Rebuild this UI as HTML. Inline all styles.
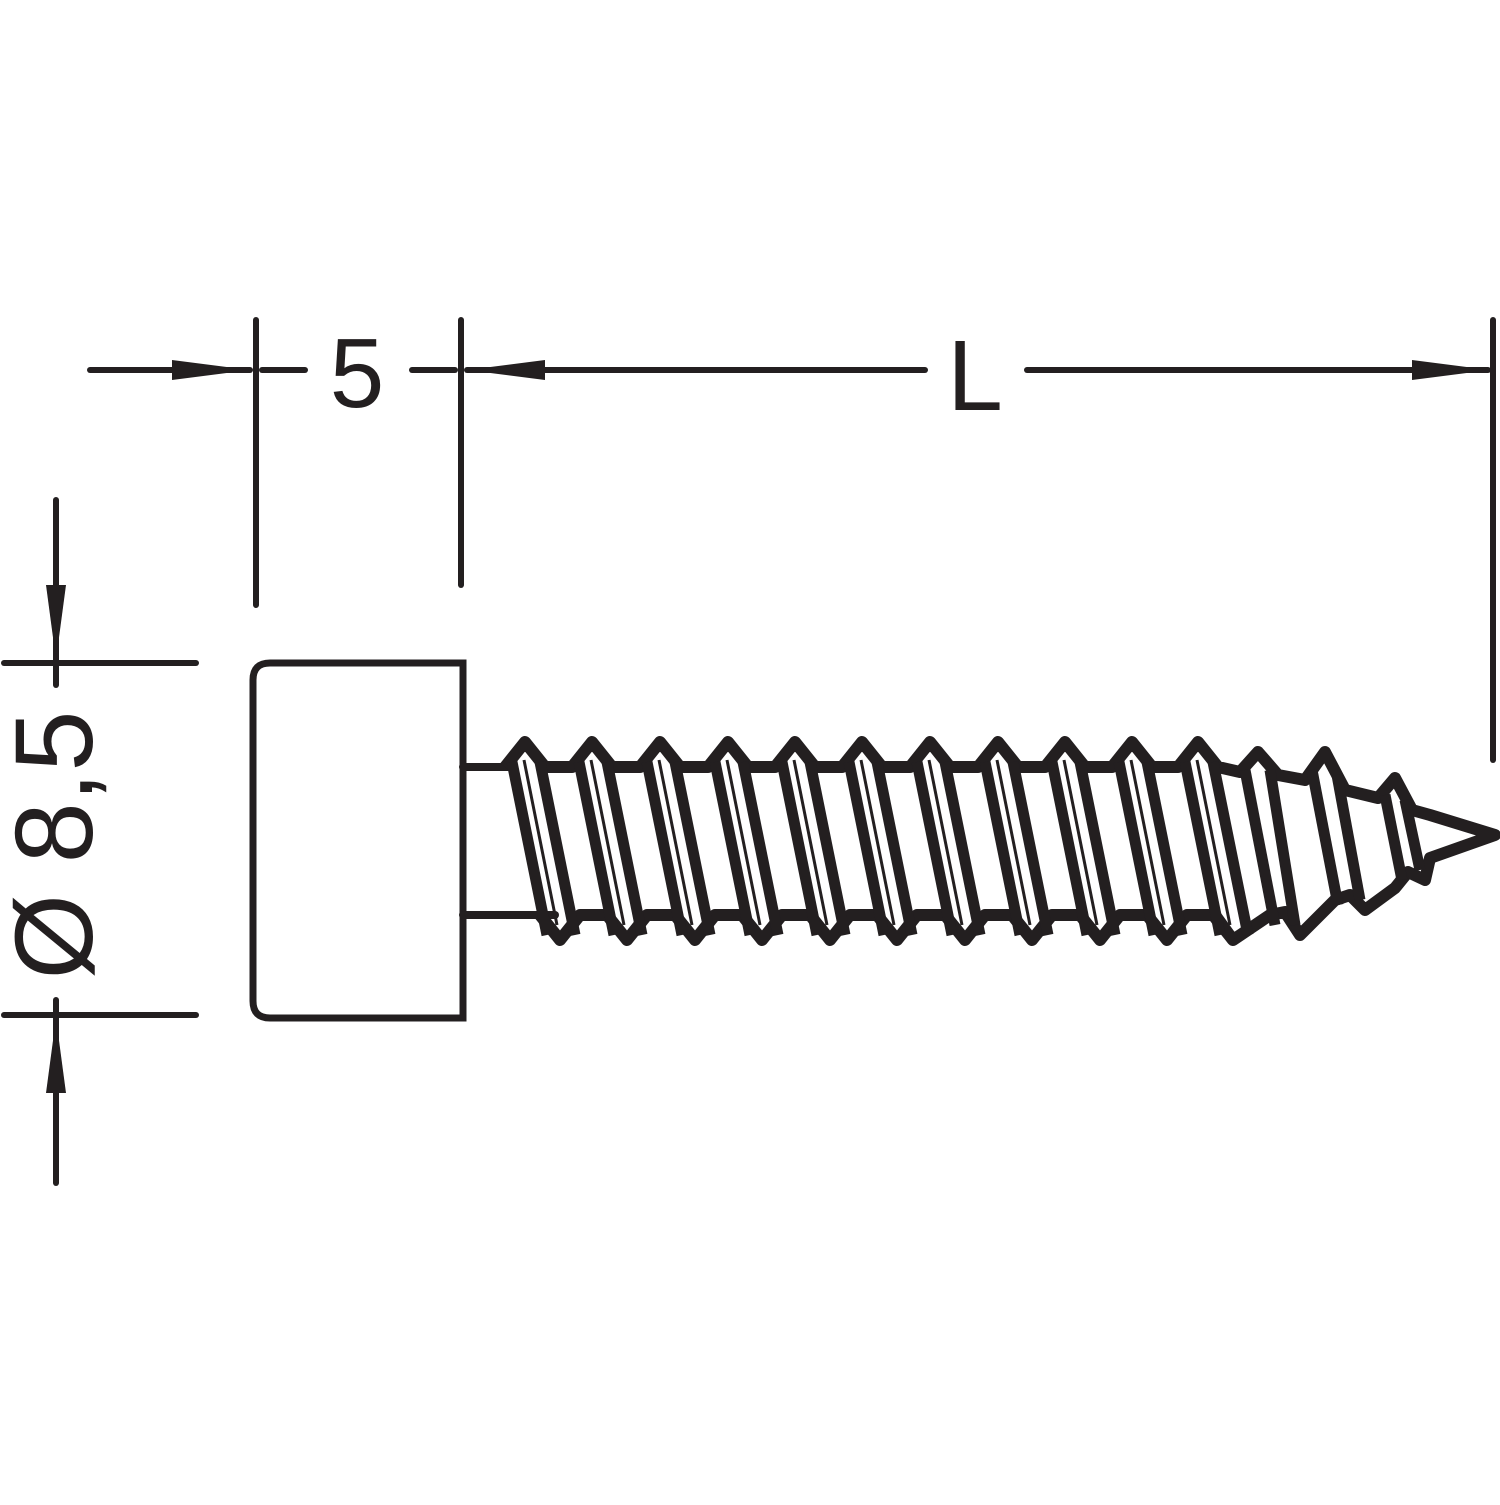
<!DOCTYPE html>
<html><head><meta charset="utf-8"><style>html,body{margin:0;padding:0;background:#fff}</style></head>
<body>
<svg width="1500" height="1500" viewBox="0 0 1500 1500" xmlns="http://www.w3.org/2000/svg">
<g stroke="#231f20" stroke-width="6" stroke-linecap="round" fill="none">
<line x1="256" y1="320" x2="256" y2="605"/>
<line x1="461" y1="320" x2="461" y2="585"/>
<line x1="1493" y1="320" x2="1493" y2="760"/>
<line x1="90" y1="370" x2="250" y2="370"/>
<line x1="262" y1="370" x2="305" y2="370"/>
<line x1="412" y1="370" x2="455" y2="370"/>
<line x1="467" y1="370" x2="925" y2="370"/>
<line x1="1027" y1="370" x2="1488" y2="370"/>
<line x1="56" y1="500" x2="56" y2="685"/>
<line x1="56" y1="1000" x2="56" y2="1183"/>
<line x1="4" y1="663" x2="196" y2="663"/>
<line x1="4" y1="1015" x2="196" y2="1015"/>
<path d="M463 663 H270 Q253 663 253 680 V1001 Q253 1018 270 1018 H463 Z" stroke-width="7"/>
<line x1="463" y1="767" x2="510" y2="767" stroke-width="8"/>
<line x1="463" y1="915" x2="555" y2="915" stroke-width="8"/>
</g>
<g fill="#231f20">
<polygon points="250,370 172,360 172,380"/>
<polygon points="467,370 545,360 545,380"/>
<polygon points="1490,370 1412,360 1412,380"/>
<polygon points="56,660 46,585 66,585"/>
<polygon points="56,1018 46,1093 66,1093"/>
</g>
<g fill="#231f20" font-family="Liberation Sans, sans-serif">
<text x="357" y="407" font-size="98" text-anchor="middle">5</text>
<text x="975" y="410" font-size="100" text-anchor="middle">L</text>
<text transform="translate(92,845) rotate(-90)" font-size="110" text-anchor="middle">Ø 8,5</text>
</g>
<g stroke="#231f20" stroke-width="12" stroke-linejoin="round" fill="none">
<path d="M505 767 L525 742 L545 767
L572 767 L592 742 L612 767
L640 767 L660 742 L680 767
L708 767 L728 742 L748 767
L775 767 L795 742 L815 767
L842 767 L862 742 L882 767
L910 767 L930 742 L950 767
L978 767 L998 742 L1018 767
L1045 767 L1065 742 L1085 767
L1112 767 L1132 742 L1152 767
L1178 767 L1198 742 L1218 767
L1240 772 L1258 752 L1278 775
L1305 780 L1325 752 L1345 790
L1378 798 L1395 778 L1412 810
L1430 815 L1495 835 L1430 858
L1425 880 L1408 872 L1395 888
L1365 910 L1350 895 L1335 900
L1300 935 L1285 912 L1270 915
L1233 940 L1215 915
"/>
<path d="M540 915 L560 940 L580 915
L607 915 L627 940 L647 915
L675 915 L695 940 L715 915
L742 915 L762 940 L782 915
L810 915 L830 940 L850 915
L877 915 L897 940 L917 915
L945 915 L965 940 L985 915
L1012 915 L1032 940 L1052 915
L1080 915 L1100 940 L1120 915
L1147 915 L1167 940 L1187 915
L1213 915 L1233 940"/>
</g>
<g stroke="#231f20" stroke-width="11" fill="none">
<g id="t">
<line x1="512" y1="762" x2="547" y2="935"/>
<line x1="540" y1="762" x2="575" y2="935"/>
<line x1="524" y1="760" x2="557" y2="925" stroke-width="3"/>
</g>
<use href="#t" x="67"/><use href="#t" x="135"/><use href="#t" x="203"/><use href="#t" x="270"/>
<use href="#t" x="337"/><use href="#t" x="405"/><use href="#t" x="473"/><use href="#t" x="540"/>
<use href="#t" x="607"/><use href="#t" x="673"/>
<line x1="1245" y1="770" x2="1275" y2="925"/>
<line x1="1270" y1="770" x2="1295" y2="925"/>
<line x1="1312" y1="770" x2="1338" y2="905"/>
<line x1="1337" y1="775" x2="1360" y2="900"/>
<line x1="1385" y1="795" x2="1402" y2="880"/>
<line x1="1405" y1="800" x2="1420" y2="870"/>
</g>
</svg>
</body></html>
